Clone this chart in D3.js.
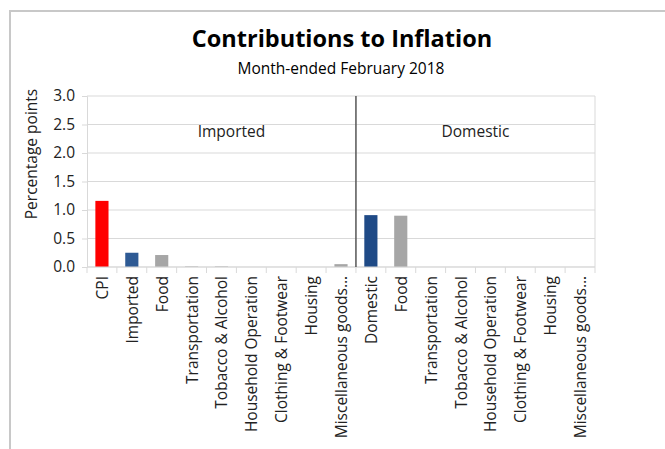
<!DOCTYPE html>
<html>
<head>
<meta charset="utf-8">
<script src="https://cdn.jsdelivr.net/npm/d3@7"></script>
<style>
  body { margin: 0; background: #fff; }
  svg { font-family: "Open Sans", "Noto Sans", sans-serif; }
</style>
</head>
<body>
<div class="chart"></div>
<script>
const categories = ["CPI", "Imported", "Food", "Transportation", "Tobacco & Alcohol", "Household Operation", "Clothing & Footwear", "Housing", "Miscellaneous goods…",
                    "Domestic", "Food", "Transportation", "Tobacco & Alcohol", "Household Operation", "Clothing & Footwear", "Housing", "Miscellaneous goods…"];
const values = [1.16, 0.25, 0.21, 0.01, 0.01, 0, 0, 0, 0.05,
                0.91, 0.90, 0, 0, 0, 0, 0, 0];
const barColors = ["#ff0000", "#2e5a94", "#a6a6a6", "#a6a6a6", "#a6a6a6", "#a6a6a6", "#a6a6a6", "#a6a6a6", "#a6a6a6",
                   "#1f4a86", "#a6a6a6", "#a6a6a6", "#a6a6a6", "#a6a6a6", "#a6a6a6", "#a6a6a6", "#a6a6a6"];
const yTicks = [0, 0.5, 1, 1.5, 2, 2.5, 3];
const groups = ["Imported", "Domestic"];

const W = 665, H = 449;
const margin = {top: 96, right: 70, bottom: 182, left: 87};
const width = W - margin.left - margin.right, height = H - margin.top - margin.bottom;

const root = d3.select('.chart').append('svg')
  .attr('width', W).attr('height', H);

// outer frame (left and top only visible)
root.append('path')
  .attr('d', `M10,${H} V11 H${W}`)
  .attr('fill', 'none').attr('stroke', '#c8c8c8').attr('stroke-width', 2);

root.append('text')
  .attr('x', 342).attr('y', 47)
  .attr('text-anchor', 'middle')
  .attr('font-size', 23.5).attr('font-weight', 'bold')
  .text('Contributions to Inflation');

root.append('text')
  .attr('x', 341).attr('y', 74)
  .attr('text-anchor', 'middle')
  .attr('font-size', 15.5)
  .text('Month-ended February 2018');

const svg = root.append('g')
  .attr('transform', `translate(${margin.left},${margin.top})`);

const idx = categories.map((d, i) => i);
const x = d3.scaleBand().domain(idx).range([0, width]).paddingInner(0).paddingOuter(0);
const y = d3.scaleLinear().domain([0, 3]).range([height, 0]);

// gridlines + y axis
const yAxis = d3.axisLeft(y).tickValues(yTicks).tickFormat(d3.format('.1f')).tickSize(5).tickPadding(7);
const yg = svg.append('g').attr('class', 'axis y-axis').call(yAxis);
yg.select('.domain').attr('stroke', '#d9d9d9');
yg.selectAll('.tick line').attr('stroke', '#d9d9d9');
yg.selectAll('.tick text').attr('font-size', 15.5).attr('fill', '#222');
yg.attr('font-family', null);

svg.append('g').selectAll('line').data(yTicks).join('line')
  .attr('x1', 0).attr('x2', width)
  .attr('y1', d => y(d)).attr('y2', d => y(d))
  .attr('stroke', '#d9d9d9');

// right border
svg.append('line').attr('x1', width).attr('x2', width).attr('y1', 0).attr('y2', height)
  .attr('stroke', '#d9d9d9');

// bars
const bw = x.bandwidth() * 0.44;
svg.selectAll('rect.bar').data(values).join('rect')
  .attr('class', 'bar')
  .attr('x', (d, i) => x(i) + (x.bandwidth() - bw) / 2)
  .attr('width', bw)
  .attr('y', d => y(d))
  .attr('height', d => height - y(d))
  .attr('fill', (d, i) => barColors[i]);

// x axis with ticks at category boundaries
const xg = svg.append('g').attr('transform', `translate(0,${height})`);
xg.append('line').attr('x1', 0).attr('x2', width).attr('stroke', '#d9d9d9');
xg.selectAll('line.tk').data(d3.range(categories.length + 1)).join('line')
  .attr('class', 'tk')
  .attr('x1', d => d * x.bandwidth()).attr('x2', d => d * x.bandwidth())
  .attr('y1', 0).attr('y2', 6)
  .attr('stroke', '#d9d9d9');
xg.selectAll('text').data(categories).join('text')
  .attr('transform', (d, i) => `translate(${x(i) + x.bandwidth() / 2 + 6},9) rotate(-90)`)
  .attr('text-anchor', 'end')
  .attr('font-size', 15.5)
  .attr('fill', '#222')
  .text(d => d);

// divider between imported and domestic
const split = x(9);
svg.append('line').attr('x1', split).attr('x2', split).attr('y1', 0).attr('y2', height)
  .attr('stroke', '#555').attr('stroke-width', 1.5);

// group labels
svg.selectAll('text.grp').data(groups).join('text')
  .attr('class', 'grp')
  .attr('x', (d, i) => i === 0 ? split / 2 + 10 : (split + width) / 2)
  .attr('y', 41)
  .attr('text-anchor', 'middle')
  .attr('font-size', 15.5)
  .attr('fill', '#222')
  .text(d => d);

// y title
root.append('text')
  .attr('transform', `translate(37,154) rotate(-90)`)
  .attr('text-anchor', 'middle')
  .attr('font-size', 15.5)
  .attr('fill', '#222')
  .text('Percentage points');
</script>
</body>
</html>
